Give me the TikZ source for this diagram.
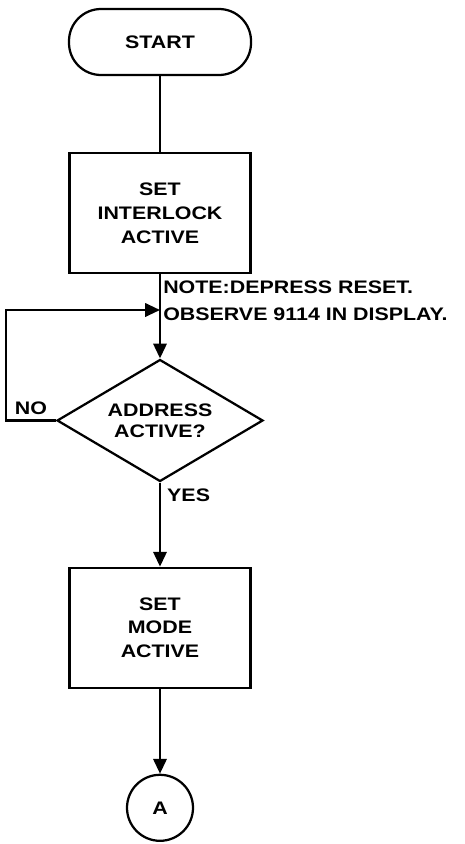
\documentclass[tikz,border=0pt]{standalone}
\usepackage{fontspec}
\setmainfont[FakeStretch=1.18]{Liberation Sans}
\usetikzlibrary{arrows.meta,positioning,shapes.geometric}
\newcommand\flowfont{\fontsize{12.9}{17}\selectfont\bfseries}
\tikzset{
  terminal/.style={draw, rounded corners=0.8cm, line width=1.6pt,
    minimum width=4.55cm, minimum height=1.65cm, align=center, font=\flowfont},
  process/.style={draw, line width=1.6pt, minimum width=4.525cm,
    minimum height=3.0cm, align=center, font=\flowfont},
  decision/.style={draw, diamond, aspect=1.7, line width=1.6pt, inner sep=0pt,
    minimum width=5.15cm, minimum height=3.05cm, align=center,
    font=\fontsize{12.9}{15}\selectfont\bfseries},
  connector/.style={draw, circle, line width=1.6pt, minimum size=1.65cm,
    inner sep=0pt, font=\flowfont},
  note/.style={inner sep=0pt, align=left, font=\flowfont},
  flowline/.style={line width=1.6pt},
  arrow/.style={-{Triangle[length=10.5pt,width=9.5pt]}, line width=1.6pt}
}
\begin{document}
\begin{tikzpicture}
  \useasboundingbox (0,0) rectangle (11.6,-21.1);
  \node[terminal] (start) at (4.0,-1.05) {START};
  \node[process, below=1.9cm of start] (interlock) {SET\\INTERLOCK\\ACTIVE};
  \node[decision, below=2.1cm of interlock] (addr) {ADDRESS\\ACTIVE?};
  \node[process, below=2.1cm of addr] (mode) {SET\\MODE\\ACTIVE};
  \node[connector, below=2.12cm of mode] (conA) {A};
  \node[note, anchor=west] (note) at (4.075,-7.52)
    {NOTE:DEPRESS RESET.\\[2pt]OBSERVE 9114 IN DISPLAY.};
  \coordinate (loopjoin) at (4.0,-7.75);
  \draw[flowline] (start) -- (interlock);
  \draw[arrow] (interlock) -- (addr);
  \draw[arrow] (addr) -- node[pos=0.15, right=1pt, font=\flowfont] (yes) {YES} (mode);
  \draw[arrow] (mode) -- (conA);
  % no branch loops back above the test
  \draw[arrow] (addr.west) -- node[above, font=\flowfont] (no) {NO} ++(-1.25,0) |- (loopjoin);
\end{tikzpicture}
\end{document}
